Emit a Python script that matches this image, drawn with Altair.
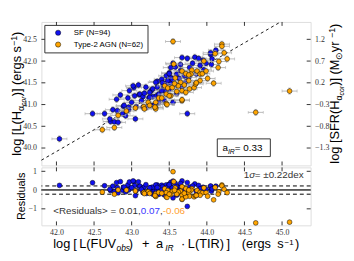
import altair as alt
import pandas as pd

# ---------------- data ----------------
SF_X = [42.04, 42.48, 42.64, 42.72, 42.77, 42.82, 42.75, 42.88, 42.92, 42.80,
        42.89, 42.96, 42.96, 43.05, 42.95, 42.97, 43.03, 43.04, 43.10, 42.71,
        42.81, 43.02, 43.11, 43.15, 43.17, 43.23, 43.28, 43.33, 43.36, 43.55,
        43.74, 42.90, 43.20, 43.15, 43.28, 43.13, 43.24, 43.26, 43.36, 43.28,
        43.24, 43.34, 43.42, 43.32, 43.40, 43.46, 43.41, 43.46, 43.52, 43.50,
        43.52, 43.48, 43.54, 43.52, 43.58, 43.50, 43.67, 43.74, 43.84, 43.89,
        43.95, 43.99, 44.05, 44.06, 44.12, 44.05, 43.77, 43.70, 43.63, 43.60,
        43.67, 43.45, 43.50, 43.60, 43.43, 43.19, 43.09, 43.34, 43.91, 43.81,
        43.86, 43.96, 43.72, 43.76, 43.60, 43.65, 43.31, 43.00, 43.06, 43.40,
        42.85, 43.55, 44.07, 43.65]
SF_Y = [40.21, 40.79, 40.79, 40.61, 40.60, 40.59, 40.88, 40.79, 40.74, 41.12,
        40.96, 40.94, 40.88, 40.67, 41.15, 41.32, 41.39, 41.20, 41.23, 40.67,
        40.86, 41.43, 41.24, 41.18, 41.26, 41.15, 41.18, 41.20, 41.05, 41.05,
        40.79, 40.98, 40.94, 40.94, 40.98, 41.09, 41.17, 41.32, 41.24, 41.36,
        41.28, 41.53, 41.43, 41.51, 41.58, 41.66, 41.50, 41.48, 41.50, 41.73,
        41.62, 41.55, 41.58, 41.85, 41.86, 41.71, 42.08, 42.06, 42.09, 42.06,
        42.02, 41.95, 42.15, 41.92, 42.25, 42.19, 41.85, 41.66, 41.60, 41.45,
        41.40, 41.30, 41.35, 41.25, 41.10, 41.40, 41.45, 41.40, 41.90, 41.95,
        41.70, 41.80, 41.52, 41.62, 41.70, 41.78, 41.00, 41.05, 40.95, 41.32,
        41.22, 41.95, 42.05, 41.92]
AGN_X = [42.61, 42.77, 42.82, 43.05, 43.16, 43.32, 43.55, 43.56, 43.44, 43.48,
         44.20, 44.20, 44.11, 44.23, 44.16, 44.09, 45.10, 44.65, 43.67, 43.80,
         43.87, 43.91, 43.79, 43.72, 43.58, 43.65, 43.76, 43.54, 43.67, 43.77,
         43.52, 43.46, 43.67, 43.22, 43.32, 43.46, 43.17, 43.32, 43.36, 43.47,
         43.67, 43.31, 43.72, 43.50, 43.83, 43.85, 43.94, 43.99, 43.76, 43.96,
         44.01, 43.62, 43.40, 43.60, 43.91, 44.27, 43.86, 43.24, 42.93, 43.70,
         43.57, 44.15]
AGN_Y = [40.42, 40.47, 40.75, 40.92, 40.95, 40.93, 42.45, 41.93, 41.43, 41.38,
         42.39, 42.34, 42.17, 42.19, 41.99, 41.49, 41.31, 40.82, 41.77, 41.79,
         41.77, 41.70, 41.70, 41.71, 41.61, 41.51, 41.55, 41.39, 41.32, 41.36,
         41.20, 41.24, 41.09, 41.05, 41.05, 41.02, 40.90, 40.90, 41.15, 41.00,
         41.11, 40.94, 41.28, 41.20, 41.39, 41.47, 41.71, 41.77, 41.68, 42.00,
         41.60, 41.43, 41.15, 41.30, 41.55, 42.05, 41.50, 40.98, 40.85, 41.45,
         41.48, 41.85]
SF_LABEL = "SF (N=94)"
AGN_LABEL = "Type-2 AGN (N=62)"
XERR = 0.10
YERR = 0.07
LINE_X = [41.80, 44.98]
LINE_OFFSET = 2.08          # log L(Ha) = log[L(FUV)+aIR L(TIR)] - 2.08
SFR_OFFSET = 41.3
X_TICKS = [42.0, 42.5, 43.0, 43.5, 44.0, 44.5, 45.0]
Y_TICKS = [40.0, 40.5, 41.0, 41.5, 42.0, 42.5]
SFR_TICKS = [-1.3, -0.8, -0.3, 0.2, 0.7, 1.2]
RES_TICKS = [-1, 0, 1]
SIGMA = 0.22
MEAN_RES = 0.01
X_DOMAIN = [41.80, 45.38]
Y_DOMAIN = [39.60, 42.90]
RES_DOMAIN = [-1.88, 1.21]

# ---------------- style ----------------
W, H1, H2 = 274, 146, 59
SANS = "Liberation Sans"
SERIF = "Liberation Serif"
BLUE = "#1010f0"
ORANGE = "#ffa500"
EC = "#aaaaaa"
LBL = "#333333"
PSIZE = 24

CW = {' ': 278, '\u00a0': 278, '(': 333, ')': 333, '[': 278, ']': 278, '+': 584,
      '=': 584, '\u2212': 584, '-': 333, '\u00b1': 584, '\u00b7': 278, '<': 584,
      '>': 584, ',': 278, '.': 278, '\u03b1': 578, '\u03c3': 571, '\u2299': 840}
for c, w in zip("abcdefghijklmnopqrstuvwxyz",
                [556, 556, 500, 556, 556, 278, 556, 556, 222, 222, 500, 222, 833,
                 556, 556, 556, 556, 333, 500, 278, 556, 500, 722, 500, 500, 500]):
    CW[c] = w
for c, w in zip("ABCDEFGHIJKLMNOPQRSTUVWXYZ",
                [667, 667, 722, 722, 667, 611, 778, 722, 278, 500, 667, 556, 833,
                 722, 778, 667, 778, 722, 667, 611, 722, 667, 944, 667, 667, 611]):
    CW[c] = w


def tw(s, fs):
    return sum(CW.get(ch, 556) for ch in s) * fs / 1000.0


def txt(t, x, y, fs, angle=0, italic=False, color="black", align="left", font=SANS):
    return alt.Chart(pd.DataFrame({"t": [t]})).mark_text(
        align=align, baseline="alphabetic", angle=angle, fontSize=fs,
        fontStyle="italic" if italic else "normal", font=font, color=color
    ).encode(x=alt.value(x), y=alt.value(y), text="t:N")


def vrich(segs, xb, yc):
    total = sum(tw(s[0], s[1]) for s in segs)
    y = yc + total / 2
    out = []
    for t, fs, sh, it in segs:
        out.append(txt(t, xb + sh, y, fs, angle=270, italic=it))
        y -= tw(t, fs)
    return out


def hrich(segs, x0, yb):
    out = []
    x = x0
    for t, fs, sh, it, col in segs:
        out.append(txt(t, x, yb + sh, fs, italic=it, color=col))
        x += tw(t, fs)
    return out


def guard():
    return alt.Chart(pd.DataFrame({"g": [0]})).mark_rule(
        stroke="white", strokeOpacity=0.01).encode(
        x=alt.value(-33), x2=alt.value(W), y=alt.value(3))


XS = alt.Scale(domain=X_DOMAIN, nice=False, zero=False)
YS = alt.Scale(domain=Y_DOMAIN, nice=False, zero=False)
RS = alt.Scale(domain=RES_DOMAIN, nice=False, zero=False)
YAX = alt.Axis(values=Y_TICKS, format=".1f", labelFont=SERIF, labelFontSize=8,
               labelColor=LBL, ticks=False, domain=False, grid=False,
               labelPadding=5, title=None)
XAXB = alt.Axis(values=X_TICKS, format=".1f", labelFont=SERIF, labelFontSize=8,
                labelColor=LBL, ticks=False, domain=False, grid=False,
                labelPadding=3, title=None)
RAX = alt.Axis(values=RES_TICKS, format="d", labelFont=SERIF, labelFontSize=8,
               labelColor=LBL, ticks=False, domain=False, grid=False,
               labelPadding=5, title=None)

sf = pd.DataFrame({"x": SF_X, "y": SF_Y, "group": SF_LABEL})
agn = pd.DataFrame({"x": AGN_X, "y": AGN_Y, "group": AGN_LABEL})

CS = alt.Scale(domain=[SF_LABEL, AGN_LABEL], range=[BLUE, ORANGE])
LEG = alt.Legend(title=None, orient="none", legendX=3, legendY=3, padding=4,
                 strokeColor="#333333", fillColor="white", symbolType="circle",
                 symbolSize=28, symbolStrokeColor="black", symbolStrokeWidth=0.5,
                 symbolOffset=6, labelOffset=12, labelFont=SANS, labelFontSize=8,
                 labelColor="black", rowPadding=4, cornerRadius=0)


def X(f):
    return alt.X(f, scale=XS, axis=None)


def Y(f):
    return alt.Y(f, scale=YS, axis=YAX)


def errbars(df):
    base = alt.Chart(df).transform_calculate(
        xlo=f"datum.x - {XERR}", xhi=f"datum.x + {XERR}",
        ylo=f"datum.y - {YERR}", yhi=f"datum.y + {YERR}")
    h = base.mark_rule(color=EC, strokeWidth=0.8).encode(x=X("xlo:Q"), x2="xhi:Q", y=Y("y:Q"))
    v = base.mark_rule(color=EC, strokeWidth=0.8).encode(x=X("x:Q"), y=Y("ylo:Q"), y2="yhi:Q")
    c1 = base.mark_tick(orient="horizontal", size=3, thickness=0.8, color=EC).encode(x=X("x:Q"), y=Y("ylo:Q"))
    c2 = base.mark_tick(orient="horizontal", size=3, thickness=0.8, color=EC).encode(x=X("x:Q"), y=Y("yhi:Q"))
    c3 = base.mark_tick(orient="vertical", size=3, thickness=0.8, color=EC).encode(x=X("xlo:Q"), y=Y("y:Q"))
    c4 = base.mark_tick(orient="vertical", size=3, thickness=0.8, color=EC).encode(x=X("xhi:Q"), y=Y("y:Q"))
    return [h, v, c1, c2, c3, c4]


def pts(df):
    return alt.Chart(df).mark_circle(size=PSIZE, opacity=1, stroke="black", strokeWidth=0.5).encode(
        x=X("x:Q"), y=Y("y:Q"), color=alt.Color("group:N", scale=CS, legend=LEG))


line = alt.Chart(pd.DataFrame({"x": LINE_X})).transform_calculate(
    y=f"datum.x - {LINE_OFFSET}").mark_line(
    color="black", strokeDash=[3, 3], strokeWidth=0.9).encode(x=X("x:Q"), y=Y("y:Q"))

xt = pd.DataFrame({"v": X_TICKS})
yt = pd.DataFrame({"v": Y_TICKS})
tick_layers = [
    alt.Chart(xt).mark_rule(color="black", strokeWidth=0.8).encode(x=X("v:Q"), y=alt.value(0), y2=alt.value(4)),
    alt.Chart(xt).mark_rule(color="black", strokeWidth=0.8).encode(x=X("v:Q"), y=alt.value(H1), y2=alt.value(H1 - 4)),
    alt.Chart(yt).mark_rule(color="black", strokeWidth=0.8).encode(y=Y("v:Q"), x=alt.value(0), x2=alt.value(4)),
    alt.Chart(yt).mark_rule(color="black", strokeWidth=0.8).encode(y=Y("v:Q"), x=alt.value(W), x2=alt.value(W - 4)),
]

box = alt.Chart(pd.DataFrame({"b": [0]})).mark_rect(
    fill="white", stroke="#333333", strokeWidth=1).encode(
    x=alt.value(179), x2=alt.value(233), y=alt.value(119), y2=alt.value(137))
air = hrich([("a", 10, 0, False, "black"), ("IR", 7, 2.5, True, "black"),
             ("\u00a0= 0.33", 10, 0, False, "black")], 184.3, 131.5)

ytitle = vrich([("log [L(H", 13, 0, False), ("\u03b1", 9, 3, False), ("cor", 7, 5, True),
                (")] (ergs s", 13, 0, False), ("\u22121", 9, -4, False), (")", 13, 0, False)],
               -21, 73)
rtitle = vrich([("log [SFR(H", 13, 0, False), ("\u03b1", 9, 3, False), ("cor", 7, 5, True),
                (")] (M", 13, 0, False), ("\u2299", 9, 3, False), ("\u00a0yr", 13, 0, False),
                ("\u22121", 9, -4, False), (")", 13, 0, False)],
               303, 73)

inner = alt.layer(
    guard(), *tick_layers, line,
    *errbars(sf), pts(sf), *errbars(agn), pts(agn),
    box, *air, *ytitle, *rtitle,
)
sfr_axis = alt.Chart(pd.DataFrame({"s": SFR_TICKS})).mark_point(opacity=0).encode(
    y=alt.Y("s:Q", scale=alt.Scale(domain=[Y_DOMAIN[0] - SFR_OFFSET, Y_DOMAIN[1] - SFR_OFFSET],
                                   nice=False, zero=False),
            axis=alt.Axis(orient="right", values=SFR_TICKS, format=".1f", labelFont=SERIF,
                          labelFontSize=8, labelColor=LBL, ticks=False, domain=False,
                          grid=False, labelPadding=4, title=None)))
top = alt.layer(inner, sfr_axis).resolve_scale(y="independent").properties(width=W, height=H1)

# ---------------- residual panel ----------------
def XB(f):
    return alt.X(f, scale=XS, axis=XAXB)


def RY(f):
    return alt.Y(f, scale=RS, axis=RAX)


def rpts(df, col):
    return alt.Chart(df).transform_calculate(
        res=f"datum.y - datum.x + {LINE_OFFSET}").mark_circle(
        size=PSIZE, opacity=1, fill=col, stroke="black", strokeWidth=0.5).encode(
        x=XB("x:Q"), y=RY("res:Q"))


rt = pd.DataFrame({"v": RES_TICKS})
res_ticks = [
    alt.Chart(xt).mark_rule(color="black", strokeWidth=0.8).encode(x=XB("v:Q"), y=alt.value(H2), y2=alt.value(H2 - 4)),
    alt.Chart(xt).mark_rule(color="black", strokeWidth=0.8).encode(x=XB("v:Q"), y=alt.value(0), y2=alt.value(4)),
    alt.Chart(rt).mark_rule(color="black", strokeWidth=0.8).encode(y=RY("v:Q"), x=alt.value(0), x2=alt.value(4)),
    alt.Chart(rt).mark_rule(color="black", strokeWidth=0.8).encode(y=RY("v:Q"), x=alt.value(W), x2=alt.value(W - 4)),
]
zero = alt.Chart(pd.DataFrame({"v": [0.0]})).mark_rule(color="#999999", strokeWidth=2).encode(y=RY("v:Q"))
mean = alt.Chart(pd.DataFrame({"v": [MEAN_RES]})).mark_rule(color="black", strokeWidth=0.7).encode(y=RY("v:Q"))
sig = alt.Chart(pd.DataFrame({"v": [SIGMA, -SIGMA]})).mark_rule(
    color="black", strokeWidth=1, strokeDash=[4, 3]).encode(y=RY("v:Q"))

sig_segs = [("1", 10, 0, False, LBL), ("\u03c3", 10, 0, True, LBL),
            ("\u00a0= \u00b10.22dex", 10, 0, False, LBL)]
sig_w = sum(tw(s[0], s[1]) for s in sig_segs)
sig_txt = hrich(sig_segs, 270 - sig_w, 10.5)
mean_txt = hrich([("<Residuals> = 0.01,", 10, 0, False, LBL), ("0.07", 10, 0, False, "#3535ff"),
                  (",", 10, 0, False, LBL), ("-0.06", 10, 0, False, "#ffa030")], 12, 47.5)
res_title = txt("Residuals", -17, 29.5, 11, angle=270, align="center")
XB_Y = 82.5
xtitle = [
    txt("log", 12, XB_Y, 13), txt("[", 32.5, XB_Y, 13), txt("L(FUV", 38.5, XB_Y, 13),
    txt("obs", 76.5, XB_Y + 3, 8.5, italic=True), txt(")", 89, XB_Y, 13),
    txt("+", 102.5, XB_Y, 13), txt("a", 116.5, XB_Y, 13),
    txt("IR", 126, XB_Y + 3, 8.5, italic=True), txt("\u00b7", 142, XB_Y, 13),
    txt("L(TIR)", 149, XB_Y, 13), txt("]", 188.5, XB_Y, 13), txt("(ergs", 204, XB_Y, 13),
    txt("s", 240, XB_Y, 13), txt("\u22121", 247.5, XB_Y - 4, 8), txt(")", 258, XB_Y, 13),
]

bottom = alt.layer(
    guard(), *res_ticks, zero, mean, sig, rpts(sf, BLUE), rpts(agn, ORANGE),
    *sig_txt, *mean_txt, res_title, *xtitle,
).properties(width=W, height=H2)

chart = alt.vconcat(top, bottom, spacing=0).resolve_scale(
    color="independent").resolve_legend(color="independent").properties(
    padding={"left": 0, "top": 9, "right": 0, "bottom": 0}
).configure_view(stroke="black", strokeWidth=1).configure(background="white")

chart.save("out.html", embed_options={"renderer": "svg", "actions": False})
